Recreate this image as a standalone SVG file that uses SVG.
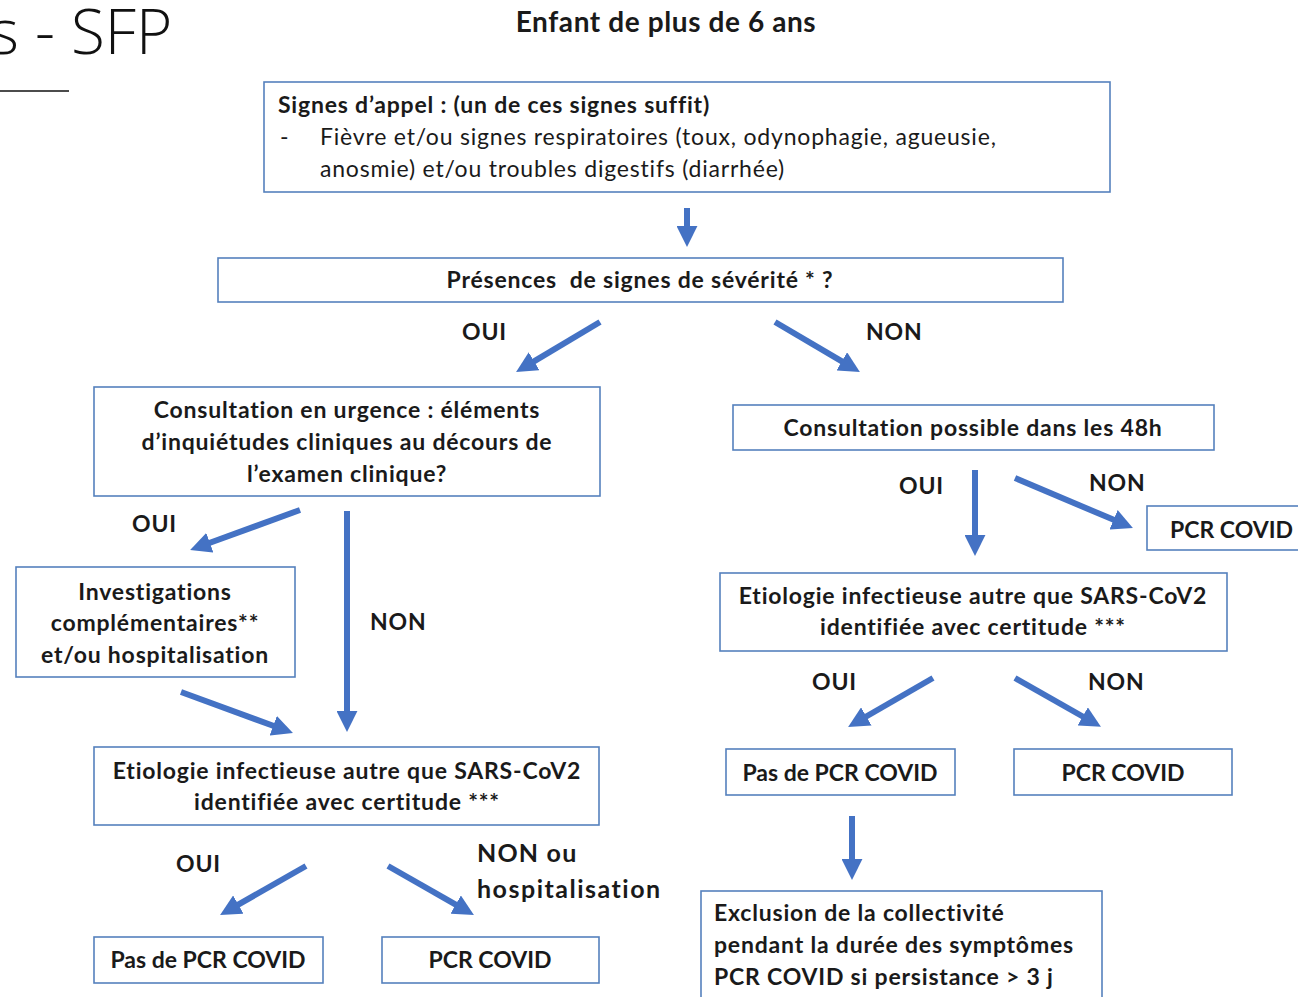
<svg xmlns="http://www.w3.org/2000/svg" width="1298" height="997" viewBox="0 0 1298 997">
<style>
.box{fill:#fff;stroke:#5581bd;stroke-width:1.6}
.t{font-family:Lato,"Liberation Sans",sans-serif;font-weight:bold;font-size:23px;letter-spacing:0.8px;fill:#1a1a1a}
.r{font-family:Lato,"Liberation Sans",sans-serif;font-size:23px;letter-spacing:0.8px;fill:#1a1a1a}
.n{letter-spacing:0}
.c{text-anchor:middle}
.a{stroke:#4472c4;stroke-width:6;fill:none;marker-end:url(#ah)}
</style>
<defs>
<marker id="ah" viewBox="0 0 10 10" refX="1" refY="5" markerWidth="3.5" markerHeight="3.5" orient="auto">
<path d="M0,0 L10,5 L0,10 z" fill="#4472c4"/>
</marker>
</defs>
<rect width="1298" height="997" fill="#fff"/>
<g id="title">
<text x="-10" y="54" style="font-family:'Open Sans',sans-serif;font-weight:300;font-size:62px;fill:#111">s - SFP</text>
<line x1="0" y1="91" x2="69" y2="91" stroke="#111" stroke-width="1.5"/>
<text class="t c" x="666" y="32" style="font-size:28px;letter-spacing:0.6px">Enfant de plus de 6 ans</text>
</g>
<g id="connectors">
<line class="a" x1="687" y1="208" x2="687" y2="228"/>
<line class="a" x1="600" y1="322" x2="532.3" y2="362.3"/>
<line class="a" x1="775" y1="322" x2="843.6" y2="362.4"/>
<line class="a" x1="300" y1="510" x2="207.9" y2="543.5"/>
<line class="a" x1="347" y1="511" x2="347" y2="713"/>
<line class="a" x1="181" y1="692" x2="275.2" y2="726.5"/>
<line class="a" x1="306" y1="866" x2="236.5" y2="905.6"/>
<line class="a" x1="388" y1="866" x2="457.5" y2="905.6"/>
<line class="a" x1="975" y1="470" x2="975" y2="537"/>
<line class="a" x1="1015" y1="478" x2="1115.5" y2="520.6"/>
<line class="a" x1="933" y1="678" x2="864.5" y2="717.5"/>
<line class="a" x1="1015" y1="678" x2="1084.5" y2="717.5"/>
<line class="a" x1="852" y1="816" x2="852" y2="861"/>
<text class="t" x="462" y="340">OUI</text>
<text class="t" x="866" y="340">NON</text>
<text class="t" x="132" y="532">OUI</text>
<text class="t" x="370" y="630">NON</text>
<text class="t" x="899" y="494">OUI</text>
<text class="t" x="1089" y="491">NON</text>
<text class="t" x="176" y="872">OUI</text>
<text class="t" x="477" y="862" style="font-size:25px;letter-spacing:1.2px">NON ou</text>
<text class="t" x="477" y="898" style="font-size:25px;letter-spacing:1.5px">hospitalisation</text>
<text class="t" x="812" y="690">OUI</text>
<text class="t" x="1088" y="690">NON</text>
</g>
<g id="n-signes">
<rect class="box" x="264" y="82" width="846" height="110"/>
<text class="t" x="278" y="113">Signes d’appel : (un de ces signes suffit)</text>
<text class="r" x="280" y="145">-</text>
<text class="r" x="320" y="145">Fièvre et/ou signes respiratoires (toux, odynophagie, agueusie,</text>
<text class="r" x="320" y="177">anosmie) et/ou troubles digestifs (diarrhée)</text>
</g>
<g id="n-severite">
<rect class="box" x="218" y="258" width="845" height="44"/>
<text class="t c" x="640" y="288" xml:space="preserve">Présences  de signes de sévérité * ?</text>
</g>
<g id="n-urgence">
<rect class="box" x="94" y="387" width="506" height="109"/>
<text class="t c" x="347" y="418">Consultation en urgence : éléments</text>
<text class="t c" x="347" y="450">d’inquiétudes cliniques au décours de</text>
<text class="t c" x="347" y="482">l’examen clinique?</text>
</g>
<g id="n-48h">
<rect class="box" x="733" y="405" width="481" height="45"/>
<text class="t c" x="973" y="436">Consultation possible dans les 48h</text>
</g>
<g id="n-pcr1">
<rect class="box" x="1147" y="506" width="160" height="44"/>
<text class="t n" x="1170" y="538">PCR COVID</text>
</g>
<g id="n-invest">
<rect class="box" x="16" y="567" width="279" height="110"/>
<text class="t c" x="155" y="600">Investigations</text>
<text class="t c" x="155" y="631">complémentaires**</text>
<text class="t c" x="155" y="663">et/ou hospitalisation</text>
</g>
<g id="n-etio-left">
<rect class="box" x="94" y="747" width="505" height="78"/>
<text class="t c" x="347" y="779">Etiologie infectieuse autre que SARS-CoV2</text>
<text class="t c" x="347" y="810">identifiée avec certitude ***</text>
</g>
<g id="n-pas-left">
<rect class="box" x="94" y="937" width="229" height="46"/>
<text class="t c n" x="208" y="968">Pas de PCR COVID</text>
</g>
<g id="n-pcr-left">
<rect class="box" x="382" y="937" width="217" height="46"/>
<text class="t c n" x="490" y="968">PCR COVID</text>
</g>
<g id="n-etio-right">
<rect class="box" x="720" y="573" width="507" height="78"/>
<text class="t c" x="973" y="604">Etiologie infectieuse autre que SARS-CoV2</text>
<text class="t c" x="973" y="635">identifiée avec certitude ***</text>
</g>
<g id="n-pas-right">
<rect class="box" x="726" y="749" width="229" height="46"/>
<text class="t c n" x="840" y="781">Pas de PCR COVID</text>
</g>
<g id="n-pcr-right">
<rect class="box" x="1014" y="749" width="218" height="46"/>
<text class="t c n" x="1123" y="781">PCR COVID</text>
</g>
<g id="n-exclusion">
<rect class="box" x="701" y="891" width="401" height="120"/>
<text class="t" x="714" y="921">Exclusion de la collectivité</text>
<text class="t" x="714" y="953">pendant la durée des symptômes</text>
<text class="t" x="714" y="985">PCR COVID si persistance &gt; 3 j</text>
</g>
</svg>
